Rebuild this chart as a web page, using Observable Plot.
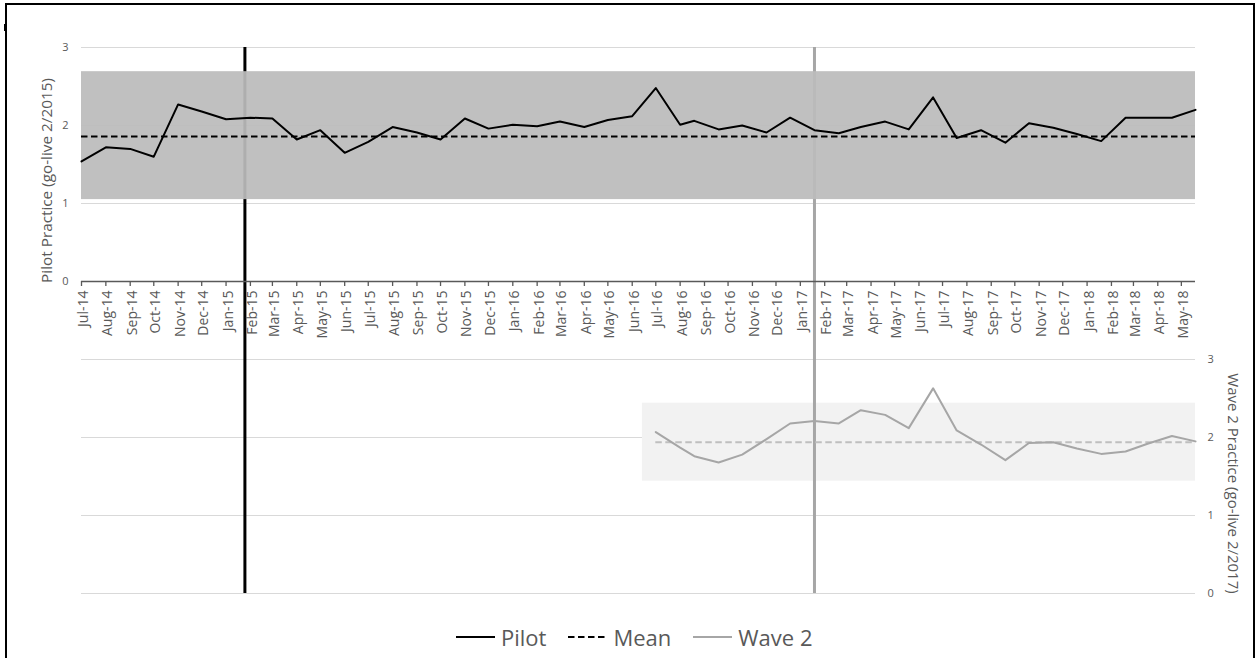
<!DOCTYPE html>
<html>
<head>
<meta charset="utf-8">
<script src="https://cdn.jsdelivr.net/npm/d3@7"></script>
<script src="https://cdn.jsdelivr.net/npm/@observablehq/plot@0.6"></script>
<style>
  html, body { margin: 0; padding: 0; background: #fff; overflow: hidden; }
  body { width: 1257px; height: 658px; position: relative; font-family: "Open Sans", sans-serif; }
  #chart { position: absolute; left: 0; top: 0; }
  #frame { position: absolute; left: 5px; top: 3px; width: 1250px; height: 670px; border: 2px solid #000; border-bottom: none; box-sizing: border-box; pointer-events: none; z-index: 5; }
  #nub { position: absolute; left: 4px; top: 24px; width: 3px; height: 7px; background: #000; z-index: 6; }
  #legend { position: absolute; left: 456px; top: 623px; display: flex; align-items: center; color: #595959; font-size: 22px; line-height: 28px; }
  #legend .item { display: flex; align-items: center; margin-right: 22px; }
  #legend svg { margin-right: 6px; }
</style>
</head>
<body>
<div id="chart"></div>
<div id="frame"></div>
<div id="nub"></div>
<div id="legend"></div>
<script>
// ---------- data ----------
const tickLabels = ["Jul-14","Aug-14","Sep-14","Oct-14","Nov-14","Dec-14","Jan-15","Feb-15","Mar-15","Apr-15","May-15","Jun-15","Jul-15","Aug-15","Sep-15","Oct-15","Nov-15","Dec-15","Jan-16","Feb-16","Mar-16","Apr-16","May-16","Jun-16","Jul-16","Aug-16","Sep-16","Oct-16","Nov-16","Dec-16","Jan-17","Feb-17","Mar-17","Apr-17","May-17","Jun-17","Jul-17","Aug-17","Sep-17","Oct-17","Nov-17","Dec-17","Jan-18","Feb-18","Mar-18","Apr-18","May-18"];

const dates = [
  "2014-07-01","2014-08-01","2014-09-01","2014-10-01","2014-11-01","2014-12-01",
  "2015-01-01","2015-02-01","2015-03-01","2015-04-01","2015-05-01","2015-06-01",
  "2015-07-01","2015-08-01","2015-09-01","2015-10-01","2015-11-01","2015-12-01",
  "2016-01-01","2016-02-01","2016-03-01","2016-04-01","2016-05-01","2016-06-01",
  "2016-07-01","2016-08-01",
  "2016-08-19","2016-09-19","2016-10-19","2016-11-19","2016-12-19",
  "2017-01-19","2017-02-19","2017-03-19","2017-04-19","2017-05-19","2017-06-19",
  "2017-07-19","2017-08-19","2017-09-19","2017-10-19","2017-11-19","2017-12-19",
  "2018-01-19","2018-02-19","2018-03-19","2018-04-19","2018-05-19"
];

const pilotValues = [
  1.54,1.72,1.70,1.60,2.27,2.18,
  2.08,2.10,2.09,1.82,1.94,1.65,
  1.79,1.98,1.91,1.82,2.09,1.96,
  2.01,1.99,2.05,1.98,2.07,2.12,
  2.48,2.01,
  2.06,1.95,2.00,1.91,2.10,
  1.94,1.90,1.98,2.05,1.95,2.36,
  1.84,1.94,1.78,2.03,1.97,1.89,
  1.80,2.10,2.10,2.10,2.20
];

const wave2Dates = dates.slice(24);
const wave2Values = [
  2.07,1.87,1.76,1.68,1.78,1.98,2.18,
  2.21,2.18,2.35,2.29,2.12,2.63,
  2.09,1.91,1.71,1.93,1.94,1.86,
  1.79,1.82,1.92,2.02,1.95
];

const pilotMean = 1.86;
const wave2Mean = 1.94;
const pilotBand = [1.05, 2.69];
const wave2Band = [1.44, 2.44];
const wave2BandStart = "2016-06-14";
const pilotGoLive = "2015-01-25";
const wave2GoLive = "2017-01-19";
const axisStart = "2014-07-01";
const axisEnd = "2018-05-19";
const yTicks = [0, 1, 2, 3];

// ---------- build ----------
const pd = d3.utcParse("%Y-%m-%d");
const pm = d3.utcParse("%b-%y");
const TOP = 4; // vertical offset of the upper (Pilot) panel on the shared y scale

const pilot = dates.map((d, i) => ({date: pd(d), value: pilotValues[i]}));
const wave2 = wave2Dates.map((d, i) => ({date: pd(d), value: wave2Values[i]}));
const ticks = tickLabels.map(l => ({date: pm(l), label: l}));
const x0 = pd(axisStart), x1 = pd(axisEnd);

const chart = Plot.plot({
  width: 1257,
  height: 600,
  marginTop: 47,
  marginBottom: 7,
  marginLeft: 81,
  marginRight: 62,
  style: {fontFamily: "Open Sans", fontSize: "11px", color: "#595959", background: "transparent", overflow: "visible"},
  x: {type: "utc", domain: [x0, x1], axis: null},
  y: {domain: [0, 7], axis: null},
  marks: [
    // gridlines
    Plot.ruleY(yTicks.filter(v => v > 0), {y: v => v + TOP, stroke: "#d9d9d9", strokeWidth: 1.2}),
    Plot.ruleY(yTicks, {stroke: "#d9d9d9", strokeWidth: 1.2}),
    // lower band
    Plot.rect([wave2Band], {x1: () => pd(wave2BandStart), x2: () => x1, y1: d => d[0], y2: d => d[1], fill: "#f2f2f2"}),
    // go-live rules
    Plot.ruleX([pd(pilotGoLive)], {y1: 0, y2: 3 + TOP, stroke: "#000", strokeWidth: 3}),
    Plot.ruleX([pd(wave2GoLive)], {y1: 0, y2: 3 + TOP, stroke: "#a6a6a6", strokeWidth: 3}),
    // upper band
    Plot.rect([pilotBand], {x1: () => x0, x2: () => x1, y1: d => d[0] + TOP, y2: d => d[1] + TOP, fill: "#bbbbbb", fillOpacity: 0.93}),
    // means
    Plot.ruleY([pilotMean], {y: v => v + TOP, stroke: "#000", strokeWidth: 2, strokeDasharray: "6.5,3.5"}),
    Plot.ruleY([wave2Mean], {y: v => v, x1: () => wave2[0].date, x2: () => x1, stroke: "#bfbfbf", strokeWidth: 2, strokeDasharray: "6.5,3.5"}),
    // series
    Plot.line(pilot, {x: "date", y: d => d.value + TOP, stroke: "#000", strokeWidth: 2}),
    Plot.line(wave2, {x: "date", y: "value", stroke: "#a6a6a6", strokeWidth: 2}),
    // upper panel x axis
    Plot.ruleY([TOP], {stroke: "#595959", strokeWidth: 1.3}),
    Plot.ruleX(ticks, {x: "date", y1: TOP, y2: TOP, insetBottom: -5, stroke: "#595959", strokeWidth: 1.3}),
    Plot.text(ticks, {x: "date", y: TOP, text: "label", rotate: -90, textAnchor: "end", dy: 9, dx: 2, fontSize: 14, fill: "#595959"}),
    // y axes
    Plot.axisY(yTicks.map(v => v + TOP), {anchor: "left", tickFormat: v => String(v - TOP), tickSize: 0, tickPadding: 13, fontSize: 11, label: null}),
    Plot.axisY(yTicks, {anchor: "right", tickFormat: v => String(v), tickSize: 0, tickPadding: 12, fontSize: 11, label: null}),
    // axis titles
    Plot.text(["Pilot Practice (go-live 2/2015)"], {frameAnchor: "top-left", textAnchor: "middle", lineAnchor: "middle", dx: -34, dy: 133, rotate: -90, fontSize: 15.3, fill: "#595959"}),
    Plot.text(["Wave 2 Practice (go-live 2/2017)"], {frameAnchor: "top-right", textAnchor: "middle", lineAnchor: "middle", dx: 37, dy: 436, rotate: 90, fontSize: 15, fill: "#595959"})
  ]
});
document.getElementById("chart").appendChild(chart);

// legend
const legendItems = [
  {label: "Pilot", stroke: "#000", dash: null},
  {label: "Mean", stroke: "#000", dash: "6.5,3.5"},
  {label: "Wave 2", stroke: "#a6a6a6", dash: null}
];
const legend = d3.select("#legend");
for (const it of legendItems) {
  const item = legend.append("div").attr("class", "item");
  const s = item.append("svg").attr("width", 39).attr("height", 10);
  s.append("line").attr("x1", 0).attr("x2", 39).attr("y1", 5).attr("y2", 5)
    .attr("stroke", it.stroke).attr("stroke-width", 2)
    .attr("stroke-dasharray", it.dash);
  item.append("span").text(it.label);
}
</script>
</body>
</html>
